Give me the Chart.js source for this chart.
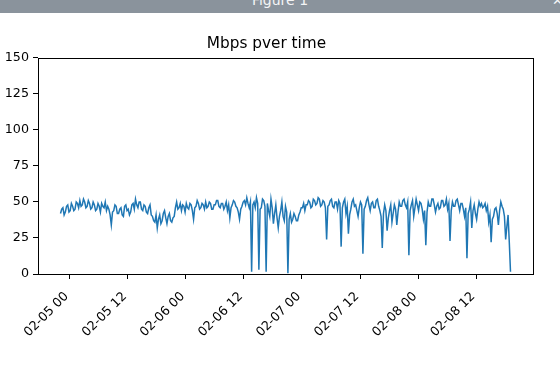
<!DOCTYPE html>
<html>
<head>
<meta charset="utf-8">
<script src="https://cdn.jsdelivr.net/npm/chart.js@4/dist/chart.umd.min.js"></script>
<style>
  body { margin: 0; background: #fff; font-family: "DejaVu Sans", sans-serif; }
  #wrap { position: relative; width: 560px; height: 371px; overflow: hidden; }
  #chart { position: absolute; left: 0; top: 0; }
  #bar { position: absolute; left: 0; top: 0; width: 560px; height: 13px; background: #8a939c; overflow: hidden; }
  #bar .name { position: absolute; left: 0; width: 560px; top: -8px; text-align: center; color: #f4f5f6; font-size: 14px; }
  #bar .btn { position: absolute; top: -7px; color: #f4f5f6; font-size: 13px; }
</style>
</head>
<body>
<div id="wrap">
  <canvas id="chart" width="560" height="371"></canvas>
  <div id="bar"><span class="name">Figure 1</span><span class="btn" style="left:533px">˅</span><span class="btn" style="left:552px">✕</span></div>
</div>
<script>
// hours are counted from 02-05 00:00
var startHour = -1.9;      // 02-04 22:06
var stepHours = 0.25;      // one sample every 15 minutes
var tickHours = [0, 12, 24, 36, 48, 60, 72, 84];
var tickLabels = ['02-05 00', '02-05 12', '02-06 00', '02-06 12', '02-07 00', '02-07 12', '02-08 00', '02-08 12'];
var mbps = [
    42, 45, 46, 41, 43, 47, 48, 43, 44, 49, 47, 44, 45, 50, 49, 46, 51, 47, 48, 52,
    50, 46, 47, 51, 49, 45, 46, 50, 48, 44, 45, 49, 47, 43, 49, 47, 46, 50, 44, 47,
    45, 41, 34, 43, 44, 48, 47, 42, 42, 45, 46, 41, 40, 47, 48, 44, 45, 41, 43, 48,
    49, 45, 52, 48, 46, 50, 50, 45, 44, 48, 47, 43, 42, 46, 48, 41, 40, 37, 36, 41,
    32, 38, 41, 35, 37, 42, 44, 39, 35, 40, 42, 37, 36, 39, 40, 46, 50, 45, 46, 49,
    44, 48, 47, 43, 49, 46, 45, 49, 48, 44, 38, 46, 47, 51, 49, 45, 46, 49, 48, 45,
    50, 46, 47, 50, 49, 45, 45, 48, 48, 51, 51, 47, 46, 49, 49, 45, 47, 50, 44, 48,
    39, 46, 48, 51, 50, 47, 46, 43, 38, 45, 47, 50, 51, 48, 53, 49, 46, 50, 1.5, 48,
    50, 46, 53, 49, 3, 45, 46, 52, 51, 47, 1.5, 49, 44, 40, 52, 46, 35, 42, 48, 39,
    32, 40, 44, 50, 40, 37, 47, 43, 0.5, 38, 42, 36, 38, 42, 40, 37, 37, 41, 43, 46,
    46, 49, 44, 48, 48, 51, 50, 46, 47, 52, 51, 48, 49, 53, 52, 47, 48, 51, 50, 46,
    24, 47, 48, 51, 52, 47, 46, 50, 50, 45, 51, 49, 19, 46, 50, 52, 42, 47, 28, 41,
    45, 50, 52, 47, 48, 44, 40, 46, 50, 48, 14, 45, 47, 51, 53, 48, 44, 49, 50, 46,
    46, 51, 52, 47, 44, 40, 18, 42, 48, 44, 30, 39, 44, 48, 36, 42, 48, 45, 34, 43,
    50, 47, 47, 51, 52, 48, 46, 50, 13, 44, 48, 51, 40, 46, 52, 48, 44, 50, 49, 45,
    38, 44, 20, 43, 50, 47, 47, 52, 52, 48, 43, 47, 49, 45, 46, 51, 51, 47, 48, 52,
    45, 49, 23, 44, 50, 47, 47, 51, 52, 48, 44, 49, 49, 45, 40, 46, 11, 42, 45, 50,
    32, 44, 48, 42, 38, 45, 50, 47, 49, 46, 47, 49, 44, 47, 36, 41, 22, 38, 40, 45,
    46, 42, 34, 44, 50, 47, 45, 40, 24, 33, 41, 22, 1.5
];

var points = mbps.map(function (v, i) {
    return { x: startHour + i * stepHours, y: v };
});

// matplotlib-like box around the axes
var frame = {
    id: 'frame',
    afterDraw: function (chart) {
        var a = chart.chartArea;
        var ctx = chart.ctx;
        ctx.save();
        ctx.strokeStyle = '#000';
        ctx.lineWidth = 1;
        ctx.strokeRect(Math.round(a.left) + 0.5, Math.round(a.top) + 0.5,
            Math.round(a.right - a.left), Math.round(a.bottom - a.top));
        ctx.restore();
    }
};

var tickFont = { family: 'DejaVu Sans', size: 12.7 };

new Chart(document.getElementById('chart').getContext('2d'), {
    type: 'line',
    data: {
        datasets: [{
            data: points,
            borderColor: '#1f77b4',
            borderWidth: 1.5,
            pointRadius: 0,
            tension: 0,
            fill: false
        }]
    },
    options: {
        responsive: false,
        animation: false,
        devicePixelRatio: 1,
        layout: { padding: { left: 0, right: 27, top: 0, bottom: 0 } },
        plugins: {
            legend: { display: false },
            tooltip: { enabled: false },
            title: {
                display: true,
                text: 'Mbps pver time',
                color: '#000',
                font: { family: 'DejaVu Sans', size: 15.3, weight: 'normal' },
                padding: { top: 35, bottom: 4.6 }
            }
        },
        scales: {
            x: {
                type: 'linear',
                min: -6.55,
                max: 95.75,
                border: { display: false },
                grid: { drawOnChartArea: false, drawTicks: true, tickLength: 5, color: '#000' },
                ticks: {
                    color: '#000',
                    font: tickFont,
                    maxRotation: 45,
                    minRotation: 45,
                    padding: 10,
                    labelOffset: -3,
                    autoSkip: false,
                    callback: function (value) {
                        var k = tickHours.indexOf(value);
                        return k >= 0 ? tickLabels[k] : '';
                    }
                },
                afterBuildTicks: function (axis) {
                    axis.ticks = tickHours.map(function (h) { return { value: h }; });
                },
                afterFit: function (axis) {
                    axis.height = 97;
                    axis.paddingLeft = 0;
                    axis.paddingRight = 0;
                }
            },
            y: {
                min: 0,
                max: 150,
                border: { display: false },
                grid: { drawOnChartArea: false, drawTicks: true, tickLength: 5, color: '#000' },
                ticks: { stepSize: 25, color: '#000', font: tickFont, padding: 4 },
                afterFit: function (axis) {
                    axis.width = 38;
                }
            }
        }
    },
    plugins: [frame]
});
</script>
</body>
</html>
